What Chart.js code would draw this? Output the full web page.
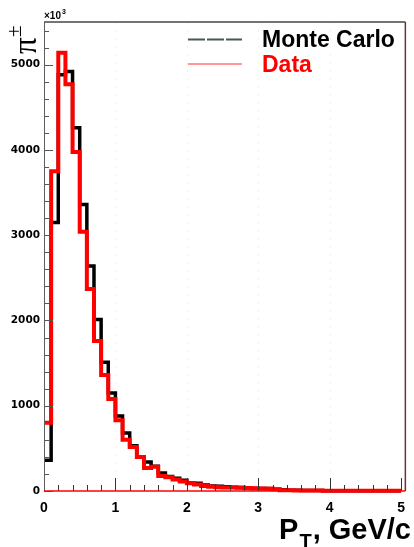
<!DOCTYPE html>
<html><head><meta charset="utf-8">
<script src="https://cdn.jsdelivr.net/npm/chart.js@4/dist/chart.umd.min.js"></script>
<style>html,body{margin:0;padding:0;background:#fff;}#wrap{width:414px;height:547px;position:relative;}</style>
</head><body><div id="wrap"><canvas id="c" width="414" height="547"></canvas></div>
<script>
// Bin edges of the pT histogram (GeV/c)
const binEdges = [0.0,0.1,0.2,0.3,0.4,0.5,0.6,0.7,0.8,0.9,1.0,1.1,1.2,1.3,1.4,1.5,1.6,1.7,1.8,1.9,
  2.0,2.1,2.2,2.3,2.4,2.5,2.6,2.7,2.8,2.9,3.0,3.1,3.2,3.3,3.4,3.5,3.6,3.7,3.8,3.9,
  4.0,4.1,4.2,4.3,4.4,4.5,4.6,4.7,4.8,4.9,5.0];
// Counts per bin (x10^3 scale shown on axis)
const monteCarlo = [360,3150,4880,4920,4260,3360,2640,2010,1510,1150,
  880,680,530,400,340,290,210,170,150,125,
  95,90,70,60,55,50,45,40,35,30,
  28,25,20,15,10,8,6,5,5,4,
  4,3,3,3,2,2,2,2,2,2];
const dataCounts = [800,3750,5140,4770,3975,3040,2370,1760,1360,1080,
  830,600,515,400,270,285,175,160,135,110,
  90,75,60,50,45,42,40,38,35,32,
  30,28,20,10,8,6,6,5,5,4,
  4,3,3,3,2,2,2,2,2,2];
const seriesLabels = ['Monte Carlo','Data'];
const xTickLabels = ['0','1','2','3','4','5'];
const yTickLabels = ['0','1000','2000','3000','4000','5000'];

function toSteps(vals){
  const pts = vals.map((v,i)=>({x:binEdges[i], y:v}));
  pts.push({x:binEdges[vals.length], y:vals[vals.length-1]});
  return pts;
}
const isMajor = (v, step) => Math.abs(v/step - Math.round(v/step)) < 1e-6;

const framePlugin = {
  id:'frame',
  beforeDatasetsDraw(chart){
    const {ctx, chartArea:a, scales:{x}} = chart;
    ctx.save();
    ctx.strokeStyle = 'rgba(215,232,215,0.45)';
    ctx.lineWidth = 1;
    ctx.setLineDash([2,6]);
    [1,2,3,4].forEach(v=>{
      const px = Math.round(x.getPixelForValue(v))+0.5;
      ctx.beginPath(); ctx.moveTo(px,a.top); ctx.lineTo(px,a.bottom); ctx.stroke();
    });
    ctx.restore();
  },
  afterDatasetsDraw(chart){
    const {ctx, chartArea:a, scales:{x,y}} = chart;
    ctx.save();
    // ticks on y (inward)
    ctx.strokeStyle = '#555'; ctx.lineWidth = 1;
    y.ticks.forEach(t=>{
      const py = Math.round(y.getPixelForValue(t.value))+0.5;
      const len = isMajor(t.value,1000) ? 9 : 5;
      ctx.beginPath(); ctx.moveTo(a.left,py); ctx.lineTo(a.left+len,py); ctx.stroke();
    });
    // ticks on x (inward)
    ctx.strokeStyle = '#333';
    x.ticks.forEach(t=>{
      const px = Math.round(x.getPixelForValue(t.value))+0.5;
      const len = isMajor(t.value,1) ? 13 : 6;
      ctx.beginPath(); ctx.moveTo(px,a.bottom); ctx.lineTo(px,a.bottom-len); ctx.stroke();
    });
    // frame
    ctx.strokeStyle = '#6f776f'; ctx.lineWidth = 2;
    ctx.beginPath(); ctx.moveTo(a.left,a.top); ctx.lineTo(a.right,a.top); ctx.stroke();
    ctx.strokeStyle = '#5e5e5e'; ctx.lineWidth = 1;
    ctx.beginPath(); ctx.moveTo(a.left+0.5,a.top); ctx.lineTo(a.left+0.5,a.bottom); ctx.stroke();
    ctx.strokeStyle = '#6a3434'; ctx.lineWidth = 1.5;
    ctx.beginPath(); ctx.moveTo(a.right,a.top); ctx.lineTo(a.right,a.bottom); ctx.stroke();
    ctx.strokeStyle = '#ff0000'; ctx.lineWidth = 1.5;
    ctx.beginPath(); ctx.moveTo(a.left,a.bottom); ctx.lineTo(a.right,a.bottom); ctx.stroke();

    // legend
    const ds = chart.data.datasets;
    ctx.lineWidth = 2;
    ctx.strokeStyle = '#4b574f';
    ctx.setLineDash([17,2]);
    ctx.beginPath(); ctx.moveTo(188,39.5); ctx.lineTo(242,39.5); ctx.stroke();
    ctx.setLineDash([]);
    ctx.strokeStyle = '#ff3030'; ctx.lineWidth = 1.2;
    ctx.beginPath(); ctx.moveTo(188,64); ctx.lineTo(242,64); ctx.stroke();
    ctx.font = 'bold 23px "Liberation Sans", Arial, sans-serif';
    ctx.textAlign = 'left'; ctx.textBaseline = 'alphabetic';
    ctx.fillStyle = '#000';
    ctx.fillText(ds[0].label, 262, 47);
    ctx.fillStyle = '#ff0000';
    ctx.fillText(ds[1].label, 262, 72);

    // x10^3
    ctx.fillStyle = '#000';
    ctx.font = 'bold 10px "Liberation Sans", Arial, sans-serif';
    ctx.fillText('\u00d710', 44, 19);
    const w = ctx.measureText('\u00d710').width;
    ctx.font = 'bold 7px "Liberation Sans", Arial, sans-serif';
    ctx.fillText('3', 44+w+1, 14);

    // y title pi±
    ctx.save();
    ctx.translate(36, 54);
    ctx.rotate(-Math.PI/2);
    ctx.font = '33px "Liberation Serif", serif';
    ctx.fillText('\u03c0', 0, 0);
    ctx.font = '21px "Liberation Serif", serif';
    ctx.fillText('\u00b1', 17, -15);
    ctx.restore();

    // x title P_T, GeV/c
    ctx.fillStyle = '#000';
    ctx.font = 'bold 29px "Liberation Sans", Arial, sans-serif';
    const rest = ', GeV/c';
    const rw = ctx.measureText(rest).width;
    const endX = 411;
    ctx.fillText(rest, endX - rw, 539);
    ctx.font = 'bold 20px "Liberation Sans", Arial, sans-serif';
    const tw = ctx.measureText('T').width;
    ctx.fillText('T', endX - rw - tw - 1, 548);
    ctx.font = 'bold 29px "Liberation Sans", Arial, sans-serif';
    const pw = ctx.measureText('P').width;
    ctx.fillText('P', endX - rw - tw - 1 - pw - 1, 539);
    ctx.restore();
  }
};

new Chart(document.getElementById('c').getContext('2d'), {
  type:'line',
  data:{datasets:[
    {label:seriesLabels[0], data:toSteps(monteCarlo), borderColor:'#000000', borderWidth:3.5, stepped:true,
     pointRadius:0, fill:false, order:1, clip:6, tension:0},
    {label:seriesLabels[1], data:toSteps(dataCounts), borderColor:'#ff0000', borderWidth:4, stepped:true,
     pointRadius:0, fill:false, order:0, clip:6, tension:0}
  ]},
  options:{
    responsive:false, animation:false, events:[],
    layout:{padding:{top:22,right:3,left:0,bottom:0}},
    plugins:{legend:{display:false}, tooltip:{enabled:false}},
    scales:{
      x:{type:'linear', min:0, max:5.06,
        border:{display:false}, grid:{display:false, drawTicks:false},
        ticks:{stepSize:0.2, includeBounds:false, autoSkip:false, maxRotation:0, padding:9, color:'#000',
          font:{family:'"Liberation Sans", Arial, sans-serif', weight:'bold', size:14},
          callback:(v)=> isMajor(v,1) ? xTickLabels[Math.round(v)] : ''},
        afterFit:(s)=>{s.height = 56;}},
      y:{type:'linear', min:0, max:5500,
        border:{display:false}, grid:{display:false, drawTicks:false},
        ticks:{stepSize:200, includeBounds:false, autoSkip:false, padding:4, color:'#000',
          font:{family:'"DejaVu Sans", sans-serif', weight:'bold', size:10.5},
          callback:(v)=> isMajor(v,1000) ? yTickLabels[Math.round(v/1000)] : ''},
        afterFit:(s)=>{s.width = 44;}}
    }
  },
  plugins:[framePlugin]
});
</script></body></html>
